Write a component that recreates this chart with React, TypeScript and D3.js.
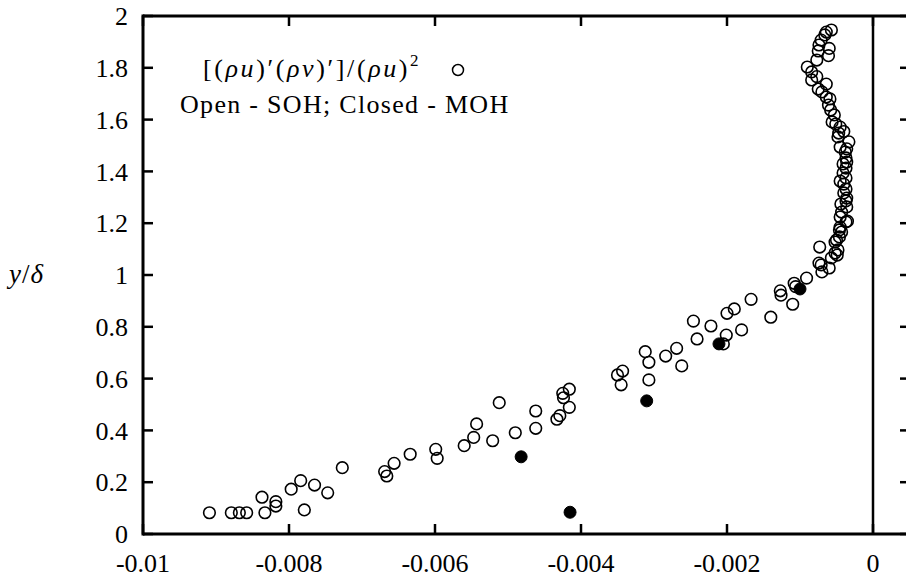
import React from "react";
import * as d3 from "d3";

const xTicks = [-0.01, -0.008, -0.006, -0.004, -0.002, 0];
const xTickLabels = ["-0.01", "-0.008", "-0.006", "-0.004", "-0.002", "0"];
const yTicks = [0, 0.2, 0.4, 0.6, 0.8, 1, 1.2, 1.4, 1.6, 1.8, 2];
const yTickLabels = ["0", "0.2", "0.4", "0.6", "0.8", "1", "1.2", "1.4", "1.6", "1.8", "2"];

// Open symbols: SOH
const openPoints: [number, number][] = [
  [-0.00057, 1.946], [-0.00064, 1.938], [-0.00066, 1.927], [-0.00071, 1.907],
  [-0.00074, 1.888], [-0.0006, 1.875], [-0.00075, 1.865], [-0.00061, 1.847],
  [-0.00077, 1.83], [-0.0009, 1.803], [-0.00084, 1.784], [-0.00077, 1.766],
  [-0.00084, 1.753], [-0.00064, 1.737], [-0.00075, 1.718], [-0.0007, 1.707],
  [-0.00064, 1.687], [-0.00059, 1.68], [-0.00061, 1.656], [-0.00058, 1.637],
  [-0.00053, 1.618], [-0.00056, 1.591], [-0.00051, 1.583], [-0.00045, 1.571],
  [-0.0004, 1.554], [-0.00047, 1.548], [-0.00048, 1.533], [-0.00033, 1.514],
  [-0.00045, 1.494], [-0.00036, 1.487], [-0.00038, 1.475], [-0.00037, 1.452],
  [-0.00036, 1.436], [-0.00041, 1.429], [-0.00037, 1.413], [-0.00041, 1.394],
  [-0.00037, 1.375], [-0.00045, 1.363], [-0.0004, 1.351], [-0.00037, 1.332],
  [-0.0004, 1.317], [-0.00036, 1.297], [-0.00037, 1.286], [-0.00044, 1.274],
  [-0.00036, 1.263], [-0.00043, 1.243], [-0.00045, 1.224], [-0.00035, 1.208],
  [-0.00037, 1.205], [-0.00045, 1.185], [-0.00046, 1.174], [-0.00043, 1.166],
  [-0.00046, 1.147], [-0.0005, 1.135], [-0.00052, 1.127], [-0.00073, 1.108],
  [-0.00048, 1.097], [-0.00052, 1.085], [-0.00049, 1.077], [-0.00057, 1.066],
  [-0.00074, 1.046], [-0.00071, 1.039], [-0.0006, 1.027], [-0.0007, 1.012],
  [-0.00091, 0.988], [-0.00108, 0.968], [-0.00106, 0.955], [-0.00127, 0.939],
  [-0.00126, 0.922], [-0.00167, 0.906], [-0.0011, 0.887], [-0.002, 0.852],
  [-0.0019, 0.869], [-0.0014, 0.837], [-0.00246, 0.822], [-0.00222, 0.803],
  [-0.0018, 0.788], [-0.00201, 0.768], [-0.00241, 0.753], [-0.00205, 0.734],
  [-0.00269, 0.717], [-0.00312, 0.704], [-0.00284, 0.687], [-0.00307, 0.663],
  [-0.00262, 0.649], [-0.00343, 0.629], [-0.0035, 0.614], [-0.00307, 0.595],
  [-0.00345, 0.576], [-0.00416, 0.559], [-0.00425, 0.543], [-0.00424, 0.526],
  [-0.00416, 0.489], [-0.00512, 0.507], [-0.00462, 0.475], [-0.00429, 0.457],
  [-0.00433, 0.443], [-0.00543, 0.425], [-0.00462, 0.408], [-0.0049, 0.391],
  [-0.00547, 0.373], [-0.00521, 0.36], [-0.0056, 0.341], [-0.00599, 0.327],
  [-0.00597, 0.292], [-0.00634, 0.308], [-0.00656, 0.273], [-0.00669, 0.241],
  [-0.00666, 0.224], [-0.00727, 0.256], [-0.00784, 0.206], [-0.00765, 0.189],
  [-0.00797, 0.173], [-0.00747, 0.159], [-0.00837, 0.142], [-0.00818, 0.125],
  [-0.00818, 0.108], [-0.00779, 0.093], [-0.00909, 0.082], [-0.00879, 0.082],
  [-0.00868, 0.082], [-0.00858, 0.082], [-0.00833, 0.082],
];

// Closed symbols: MOH
const closedPoints: [number, number][] = [
  [-0.00415, 0.084], [-0.00482, 0.298], [-0.0031, 0.514], [-0.00211, 0.734], [-0.001, 0.946],
];

const W = 906;
const H = 579;
const left = 143;
const zeroX = 873;
const frameRight = 910;
const top = 16;
const bottom = 534;

export default function App() {
  const x = d3.scaleLinear().domain([-0.01, 0]).range([left, zeroX]);
  const y = d3.scaleLinear().domain([0, 2]).range([bottom, top]);
  const tickLen = 10;
  const txt = { fontFamily: "Liberation Serif" };

  return (
    <svg width={W} height={H} style={{ position: "absolute", left: 0, top: 0 }}>
      <rect x={0} y={0} width={W} height={H} fill="#fff" />
      {/* frame */}
      <line x1={left} x2={frameRight} y1={top} y2={top} stroke="#000" strokeWidth={3} />
      <line x1={left} x2={frameRight} y1={bottom} y2={bottom} stroke="#000" strokeWidth={3} />
      <line x1={left} x2={left} y1={top - 1.5} y2={bottom + 1.5} stroke="#000" strokeWidth={3} />
      <line x1={frameRight} x2={frameRight} y1={top} y2={bottom} stroke="#000" strokeWidth={3} />
      <line x1={x(0)} x2={x(0)} y1={top} y2={bottom} stroke="#000" strokeWidth={2.5} />

      {/* x ticks */}
      {xTicks.map((t, i) => (
        <g key={"xt" + i}>
          <line x1={x(t)} x2={x(t)} y1={bottom} y2={bottom - tickLen} stroke="#000" strokeWidth={2.5} />
          <line x1={x(t)} x2={x(t)} y1={top} y2={top + tickLen} stroke="#000" strokeWidth={2.5} />
          <text style={txt} x={x(t)} y={572} textAnchor="middle" fontSize={26} fill="#000">{xTickLabels[i]}</text>
        </g>
      ))}

      {/* y ticks */}
      {yTicks.map((t, i) => (
        <g key={"yt" + i}>
          <line x1={left} x2={left + tickLen} y1={y(t)} y2={y(t)} stroke="#000" strokeWidth={2.5} />
          <line x1={frameRight} x2={frameRight - tickLen} y1={y(t)} y2={y(t)} stroke="#000" strokeWidth={2.5} />
          <text style={txt} x={128} y={y(t)} dy="0.35em" textAnchor="end" fontSize={26} fill="#000">{yTickLabels[i]}</text>
        </g>
      ))}

      {/* y label */}
      <text style={txt} x={9} y={283} fontSize={27} fill="#000" fontStyle="italic" letterSpacing={1}>
        y<tspan fontStyle="normal">/</tspan>δ
      </text>

      {/* legend */}
      <text style={txt} x={203} y={77} fontSize={26} fill="#000" letterSpacing={2.6}>
        <tspan>[(</tspan>
        <tspan fontStyle="italic">ρu</tspan>
        <tspan>)′(</tspan>
        <tspan fontStyle="italic">ρv</tspan>
        <tspan>)′]/(</tspan>
        <tspan fontStyle="italic">ρu</tspan>
        <tspan>)</tspan>
        <tspan fontSize={17} dy={-11}>2</tspan>
      </text>
      <circle cx={458} cy={70} r={5.5} fill="none" stroke="#000" strokeWidth={1.5} />
      <text style={txt} x={180} y={113} fontSize={26} fill="#000" letterSpacing={1.3}>Open - SOH; Closed - MOH</text>

      {/* data */}
      {openPoints.map((p, i) => (
        <circle key={"o" + i} cx={x(p[0])} cy={y(p[1])} r={5.8} fill="none" stroke="#000" strokeWidth={1.6} />
      ))}
      {closedPoints.map((p, i) => (
        <circle key={"c" + i} cx={x(p[0])} cy={y(p[1])} r={6} fill="#000" stroke="#000" strokeWidth={1} />
      ))}
    </svg>
  );
}
